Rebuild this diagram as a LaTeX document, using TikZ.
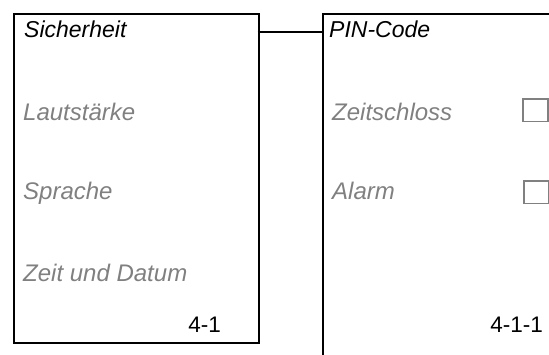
\documentclass[tikz,border=0pt]{standalone}
\usepackage{fontspec}
\setmainfont{Liberation Sans}
\begin{document}
\begin{tikzpicture}[x=1bp,y=-1bp,
  frame/.style={draw=black,line width=2bp,rectangle,inner sep=0pt,anchor=north west},
  title/.style={anchor=base west,inner sep=0pt,font=\fontsize{23bp}{27bp}\selectfont\itshape,text=black},
  item/.style={anchor=base west,inner sep=0pt,font=\fontsize{24bp}{28bp}\selectfont\itshape,text=gray},
  num/.style={anchor=base east,inner sep=0pt,font=\fontsize{22.5bp}{27bp}\selectfont,text=black},
  chk/.style={draw=gray,line width=1.6bp,rectangle,inner sep=0pt,anchor=north west,minimum width=25bp,minimum height=22.5bp}]
\useasboundingbox (0,0) rectangle (549,354);
\clip (0,0) rectangle (549,354);
\node[frame,minimum width=244.5bp,minimum height=328.8bp] (left) at (13,12.7) {};
\node[frame,minimum width=300bp,minimum height=400bp] (right) at (322,12.7) {};
\coordinate (cl) at (257.5,32);
\coordinate (cr) at (322,32);
\draw[line width=1.6bp] (cl) -- (cr);
\node[title] (t1) at (24,37.5) {Sicherheit};
\node[item] (l1) at (23,120) {Lautstärke};
\node[item] (l2) at (23,199.5) {Sprache};
\node[item] (l3) at (23,281) {Zeit und Datum};
\node[num] (n1) at (221,332) {4-1};
\node[title] (t2) at (329,37.5) {PIN-Code};
\node[item] (r1) at (332,120) {Zeitschloss};
\node[item] (r2) at (332,199.5) {Alarm};
\node[num] (n2) at (543,332) {4-1-1};
\node[chk] (c1) at (522,98.3) {};
\node[chk] (c2) at (523.3,180.2) {};
\end{tikzpicture}
\end{document}
